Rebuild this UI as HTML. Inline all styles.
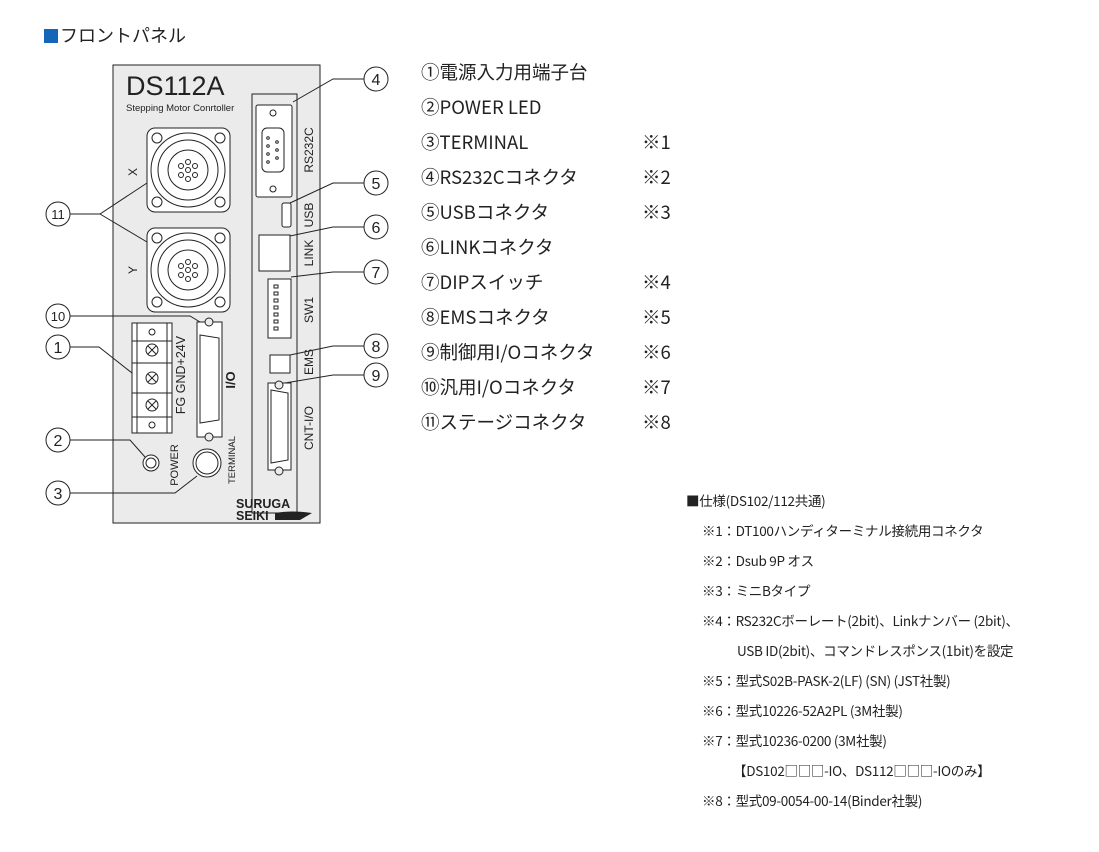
<!DOCTYPE html>
<html><head><meta charset="utf-8"><style>
body{margin:0;width:1099px;height:852px;background:#fff;position:relative;overflow:hidden;font-family:"Liberation Sans","Noto Sans CJK JP",sans-serif;color:#222}
.t{position:absolute;white-space:nowrap;font-family:"Noto Sans CJK JP",sans-serif}
.l{font-size:18.5px;left:421px}
.m{font-size:18.5px;left:642px}
.s{font-size:13.5px;letter-spacing:-0.3px}
</style></head><body>
<div class="t" style="left:44px;top:22px;font-size:18px"><span style="display:inline-block;width:14px;height:14px;background:#1565b8;vertical-align:-1px;margin-right:2px"></span>フロントパネル</div>
<svg width="1099" height="852" style="position:absolute;left:0;top:0" font-family="Liberation Sans, sans-serif">
<g stroke="#222" stroke-width="1" fill="none">
<rect x="113" y="65" width="207" height="458" fill="#ebebeb"/>
<path d="M252 94 V513 H297 V94 H252 Z" />
<rect x="256" y="105" width="36" height="92" rx="2" fill="#fff"/>
<circle cx="273" cy="113" r="3"/><circle cx="273" cy="189" r="3"/>
<rect x="262" y="128" width="22" height="44" rx="5" fill="#fff"/>
<g fill="#fff"><circle cx="268" cy="138" r="1.3"/><circle cx="268" cy="146" r="1.3"/><circle cx="268" cy="154" r="1.3"/><circle cx="268" cy="162" r="1.3"/><circle cx="277" cy="142" r="1.3"/><circle cx="277" cy="150" r="1.3"/><circle cx="277" cy="158" r="1.3"/></g>
<rect x="282" y="203" width="9" height="24" rx="2" fill="#fff"/>
<rect x="259" y="235" width="31" height="36" fill="#fff"/>
<rect x="268" y="279" width="23" height="59" fill="#fff"/>
<g><rect x="274" y="285" width="4" height="3"/><rect x="274" y="292" width="4" height="3"/><rect x="274" y="299" width="4" height="3"/><rect x="274" y="306" width="4" height="3"/><rect x="274" y="313" width="4" height="3"/><rect x="274" y="320" width="4" height="3"/><rect x="274" y="327" width="4" height="3"/></g>
<rect x="270" y="355" width="20" height="18" fill="#fff"/>
<rect x="268" y="383" width="23" height="87" fill="#fff"/>
<path d="M271 390 L288 393 V460 L271 463 Z"/>
<circle cx="279" cy="385" r="4" fill="#ebebeb"/><circle cx="279" cy="471" r="4" fill="#ebebeb"/>
<rect x="147" y="128" width="83" height="84" rx="8" fill="#fff"/>
<circle cx="188" cy="170" r="37"/><circle cx="188" cy="170" r="30"/><circle cx="188" cy="170" r="20"/>
<circle cx="157" cy="138" r="5"/><circle cx="220" cy="138" r="5"/><circle cx="157" cy="202" r="5"/><circle cx="220" cy="202" r="5"/>
<g><circle cx="188" cy="162" r="2.5"/><circle cx="181" cy="166" r="2.5"/><circle cx="195" cy="166" r="2.5"/><circle cx="181" cy="175" r="2.5"/><circle cx="195" cy="175" r="2.5"/><circle cx="188" cy="179" r="2.5"/><circle cx="188" cy="170" r="2.5"/></g>
<rect x="147" y="228" width="83" height="84" rx="8" fill="#fff"/>
<circle cx="188" cy="270" r="37"/><circle cx="188" cy="270" r="30"/><circle cx="188" cy="270" r="20"/>
<circle cx="157" cy="238" r="5"/><circle cx="220" cy="238" r="5"/><circle cx="157" cy="302" r="5"/><circle cx="220" cy="302" r="5"/>
<g><circle cx="188" cy="262" r="2.5"/><circle cx="181" cy="266" r="2.5"/><circle cx="195" cy="266" r="2.5"/><circle cx="181" cy="275" r="2.5"/><circle cx="195" cy="275" r="2.5"/><circle cx="188" cy="279" r="2.5"/><circle cx="188" cy="270" r="2.5"/></g>
<rect x="132" y="323" width="40" height="110" fill="#fff"/>
<line x1="132" y1="341" x2="172" y2="341"/><line x1="132" y1="363" x2="172" y2="363"/><line x1="132" y1="393" x2="172" y2="393"/><line x1="132" y1="417" x2="172" y2="417"/>
<line x1="137" y1="323" x2="137" y2="433"/><line x1="167" y1="323" x2="167" y2="433"/>
<circle cx="152" cy="350" r="6"/><circle cx="152" cy="378" r="6"/><circle cx="152" cy="405" r="6"/>
<path d="M148 346 L156 354 M156 346 L148 354 M148 374 L156 382 M156 374 L148 382 M148 401 L156 409 M156 401 L148 409"/>
<circle cx="152" cy="332" r="3"/><circle cx="152" cy="425" r="3"/>
<rect x="197" y="322" width="25" height="115" fill="#fff"/>
<path d="M200 335 L219 338 V420 L200 423 Z"/>
<circle cx="209" cy="322" r="4" fill="#ebebeb"/><circle cx="209" cy="437" r="4" fill="#ebebeb"/>
<circle cx="151" cy="463" r="8" fill="#fff"/><circle cx="151" cy="463" r="5"/>
<circle cx="207" cy="463" r="14" fill="#fff"/><circle cx="207" cy="463" r="11"/>
<g fill="#fff">
<circle cx="376" cy="79" r="12"/><circle cx="376" cy="183" r="12"/><circle cx="376" cy="227" r="12"/><circle cx="376" cy="272" r="12"/><circle cx="376" cy="346" r="12"/><circle cx="376" cy="375" r="12"/>
<circle cx="58" cy="214" r="12"/><circle cx="58" cy="316" r="12"/><circle cx="58" cy="347" r="12"/><circle cx="58" cy="440" r="12"/><circle cx="58" cy="493" r="12"/>
</g>
<path d="M364 79 H333 L293 102"/><path d="M364 183 H333 L290 203"/><path d="M364 227 H333 L290 236"/><path d="M364 272 H333 L291 277"/><path d="M364 346 H333 L290 355"/><path d="M364 375 H333 L285 383"/>
<path d="M70 214 H100 L147 183 M100 214 L147 242"/>
<path d="M70 316 H190 L200 322"/><path d="M70 347 H99 L132 373"/><path d="M70 440 H130 L145 457"/><path d="M70 493 H175 L197 476"/>
</g>
<g font-size="16" text-anchor="middle" fill="#222">
<text x="376" y="85">4</text><text x="376" y="189">5</text><text x="376" y="233">6</text><text x="376" y="278">7</text><text x="376" y="352">8</text><text x="376" y="381">9</text>
<text x="58" y="219" font-size="13">11</text><text x="58" y="321" font-size="13">10</text><text x="58" y="353">1</text><text x="58" y="446">2</text><text x="58" y="499">3</text>
</g>
<text x="126" y="95" font-size="27" fill="#222">DS112A</text>
<text x="126" y="111" font-size="9.5" fill="#222">Stepping Motor Conrtoller</text>
<g font-size="12" fill="#222">
<text transform="translate(137,172) rotate(-90)" text-anchor="middle">X</text>
<text transform="translate(137,270) rotate(-90)" text-anchor="middle">Y</text>
<text transform="translate(185,375) rotate(-90)" text-anchor="middle" font-size="12.5">FG GND+24V</text>
<text transform="translate(235,380) rotate(-90)" text-anchor="middle" font-size="13" font-weight="bold">I/O</text>
<text transform="translate(178,465) rotate(-90)" text-anchor="middle" font-size="11">POWER</text>
<text transform="translate(235,460) rotate(-90)" text-anchor="middle" font-size="9.5">TERMINAL</text>
<text transform="translate(313,150) rotate(-90)" text-anchor="middle">RS232C</text>
<text transform="translate(313,215) rotate(-90)" text-anchor="middle">USB</text>
<text transform="translate(313,253) rotate(-90)" text-anchor="middle">LINK</text>
<text transform="translate(313,310) rotate(-90)" text-anchor="middle">SW1</text>
<text transform="translate(313,362) rotate(-90)" text-anchor="middle">EMS</text>
<text transform="translate(313,428) rotate(-90)" text-anchor="middle">CNT-I/O</text>
</g>
<text x="236" y="508" font-size="12.5" font-weight="bold" fill="#222">SURUGA</text>
<text x="236" y="520" font-size="12.5" font-weight="bold" fill="#222">SEIKI</text>
<path d="M275 520 V513 Q292 510 312 513 L300 520 Z" fill="#222"/>
</svg>
<div class="t l" style="top:59px">①電源入力用端子台</div>
<div class="t l" style="top:94px">②POWER LED</div>
<div class="t l" style="top:129px">③TERMINAL</div><div class="t m" style="top:129px">※1</div>
<div class="t l" style="top:164px">④RS232Cコネクタ</div><div class="t m" style="top:164px">※2</div>
<div class="t l" style="top:199px">⑤USBコネクタ</div><div class="t m" style="top:199px">※3</div>
<div class="t l" style="top:234px">⑥LINKコネクタ</div>
<div class="t l" style="top:269px">⑦DIPスイッチ</div><div class="t m" style="top:269px">※4</div>
<div class="t l" style="top:304px">⑧EMSコネクタ</div><div class="t m" style="top:304px">※5</div>
<div class="t l" style="top:339px">⑨制御用I/Oコネクタ</div><div class="t m" style="top:339px">※6</div>
<div class="t l" style="top:374px">⑩汎用I/Oコネクタ</div><div class="t m" style="top:374px">※7</div>
<div class="t l" style="top:409px">⑪ステージコネクタ</div><div class="t m" style="top:409px">※8</div>
<div class="t s" style="left:686px;top:490px">■仕様(DS102/112共通)</div>
<div class="t s" style="left:702px;top:520px">※1：DT100ハンディターミナル接続用コネクタ</div>
<div class="t s" style="left:702px;top:550px">※2：Dsub 9P オス</div>
<div class="t s" style="left:702px;top:580px">※3：ミニBタイプ</div>
<div class="t s" style="left:702px;top:610px">※4：RS232Cボーレート(2bit)、Linkナンバー (2bit)、</div>
<div class="t s" style="left:737px;top:640px">USB ID(2bit)、コマンドレスポンス(1bit)を設定</div>
<div class="t s" style="left:702px;top:670px">※5：型式S02B-PASK-2(LF) (SN) (JST社製)</div>
<div class="t s" style="left:702px;top:700px">※6：型式10226-52A2PL (3M社製)</div>
<div class="t s" style="left:702px;top:730px">※7：型式10236-0200 (3M社製)</div>
<div class="t s" style="left:733px;top:760px">【DS102□□□-IO、DS112□□□-IOのみ】</div>
<div class="t s" style="left:702px;top:790px">※8：型式09-0054-00-14(Binder社製)</div>
</body></html>
